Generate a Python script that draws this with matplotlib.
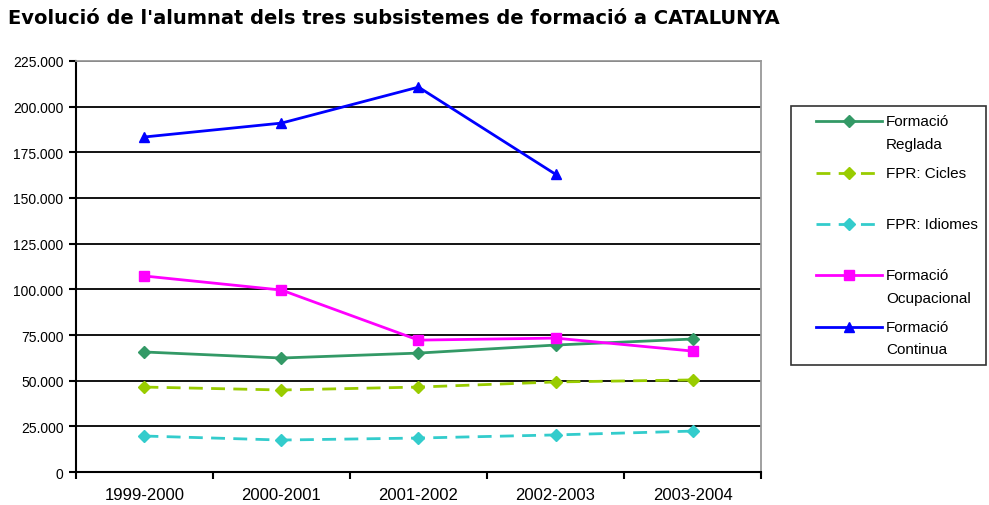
import matplotlib
matplotlib.use("Agg")
from matplotlib import pyplot as plt
from matplotlib.ticker import FuncFormatter

plt.rcParams['font.family'] = ['Liberation Sans', 'DejaVu Sans']

cursos = ["1999-2000", "2000-2001", "2001-2002", "2002-2003", "2003-2004"]

reglada = [65700, 62400, 65100, 69500, 72800]
cicles = [46500, 44900, 46500, 49300, 50400]
idiomes = [19700, 17500, 18600, 20300, 22400]
ocupacional = [107300, 99600, 72200, 73300, 66200]
continua = [183400, 191000, 210700, 163000]

def punts(v, pos):
    return "{:,.0f}".format(v).replace(",", ".")

def main():
    fig = plt.figure(figsize=(9.89, 5.06), dpi=100)
    ax = fig.add_axes([0.0768, 0.0652, 0.6927, 0.8123])

    x = list(range(len(cursos)))

    ax.plot(x, reglada, color="#339966", lw=2, marker="D", ms=6,
            label="Formació\nReglada")
    ax.plot(x, cicles, color="#99CC00", lw=2, ls=(0, (5, 3)), marker="D", ms=6,
            label="FPR: Cicles\n ")
    ax.plot(x, idiomes, color="#33CCCC", lw=2, ls=(0, (5, 3)), marker="D", ms=6,
            label="FPR: Idiomes\n ")
    ax.plot(x, ocupacional, color="#FF00FF", lw=2, marker="s", ms=7,
            label="Formació\nOcupacional")
    ax.plot(x[:len(continua)], continua, color="#0000FF", lw=2, marker="^", ms=7,
            label="Formació\nContinua")

    ax.set_xlim(-0.5, len(cursos) - 0.5)
    ax.set_ylim(0, 225000)
    ax.set_yticks(range(0, 225001, 25000))
    ax.yaxis.set_major_formatter(FuncFormatter(punts))
    ax.set_xticks([i - 0.5 for i in range(len(cursos) + 1)])
    ax.set_xticklabels([])
    ax.set_xticks(x, minor=True)
    ax.set_xticklabels(cursos, minor=True)
    ax.tick_params(axis="x", which="minor", length=0, pad=11, labelsize=12)
    ax.tick_params(axis="x", which="major", length=5, direction="out", width=1.5)
    ax.tick_params(axis="y", length=5, width=1.5, labelsize=10, pad=4)

    ax.grid(axis="y", color="black", lw=1.3)
    for s in ["top", "right"]:
        ax.spines[s].set_color("#999999")
        ax.spines[s].set_linewidth(1.3)
    for s in ["left", "bottom"]:
        ax.spines[s].set_linewidth(1.5)

    fig.text(0.008, 1 - 19 / 506, "Evolució de l'alumnat dels tres subsistemes de formació a CATALUNYA",
             fontsize=14, fontweight="bold", va="center", family="DejaVu Sans")

    leg = fig.legend(loc="upper left", bbox_to_anchor=(791 / 989, 1 - 107 / 506),
                     borderaxespad=0, frameon=True, fancybox=False, edgecolor="black",
                     fontsize=11, labelspacing=0.95, handlelength=5.4,
                     handletextpad=0.26, borderpad=0.55)
    leg.get_frame().set_linewidth(1.2)
    for t in leg.get_texts():
        t.set_linespacing(1.8)

    # la línia de la llegenda s'alinea amb la primera línia del text
    fig.canvas.draw()
    r = fig.canvas.get_renderer()
    k = fig.dpi / 72.0
    prova = fig.text(0, 0, "Formació", fontsize=11)
    h1 = prova.get_window_extent(r).height
    prova.remove()
    for lin, t in zip(leg.legend_handles, leg.get_texts()):
        bb = t.get_window_extent(r)
        objectiu = bb.y1 - h1 / 2
        xd = list(lin.get_xdata())
        yd = list(lin.get_ydata())
        actual = lin.get_transform().transform((xd[0], yd[0]))[1]
        dy = (objectiu - actual) / k
        x0 = xd[0] + 17 / k
        x1 = xd[-1]
        lin.set_xdata([x0, (x0 + x1) / 2, x1])
        lin.set_ydata([y + dy for y in yd])

    fig.savefig("out.png", dpi=100)

if __name__ == "__main__":
    main()
